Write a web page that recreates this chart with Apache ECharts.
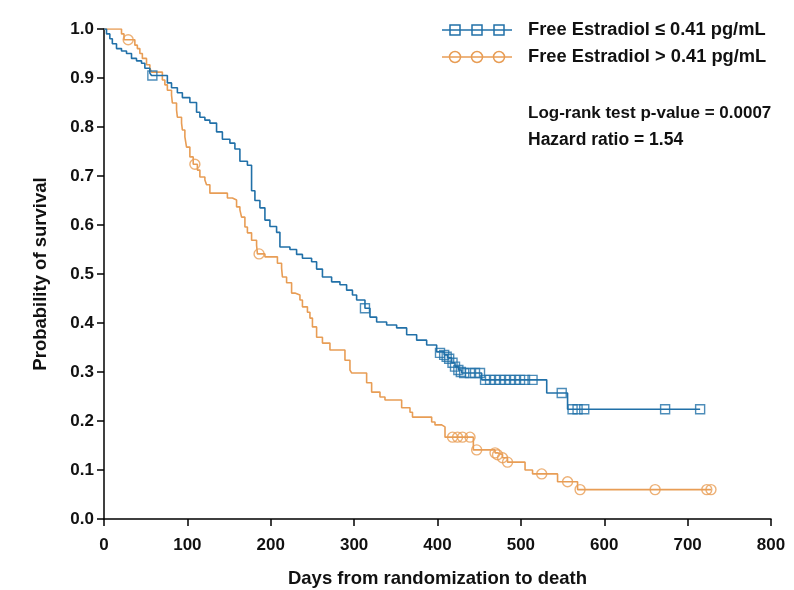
<!DOCTYPE html>
<html>
<head>
<meta charset="utf-8">
<script src="https://cdn.jsdelivr.net/npm/echarts@6.0.0/dist/echarts.min.js"></script>
<style>
    html, body { margin: 0; padding: 0; background: #fff; }
    #main { width: 794px; height: 590px; }
</style>
</head>
<body>
<div id="main"></div>
<script>
// Kaplan-Meier steps: [day, survival after the event]
const lowSteps = [
    [0, 1.0], [3, 0.99], [7, 0.98], [10, 0.97], [15, 0.96], [21, 0.955], [27, 0.95], [33, 0.94],
    [39, 0.935], [45, 0.93], [49, 0.92], [55, 0.91], [57, 0.905], [76, 0.89], [81, 0.88], [88, 0.87],
    [94, 0.86], [103, 0.85], [111, 0.83], [115, 0.82], [121, 0.814], [127, 0.808], [135, 0.79],
    [142, 0.775], [151, 0.767], [157, 0.755], [163, 0.73], [172, 0.722], [177, 0.67], [181, 0.65],
    [187, 0.635], [193, 0.61], [199, 0.597], [207, 0.585], [211, 0.555], [223, 0.55], [231, 0.54],
    [238, 0.532], [249, 0.525], [255, 0.51], [262, 0.494], [273, 0.484], [283, 0.478], [291, 0.467],
    [298, 0.457], [303, 0.447], [313, 0.43], [319, 0.412], [327, 0.402], [339, 0.396], [351, 0.39],
    [363, 0.376], [375, 0.365], [387, 0.355], [399, 0.341], [408, 0.335], [412, 0.329], [417, 0.319],
    [421, 0.311], [425, 0.304], [429, 0.298], [453, 0.284], [531, 0.257], [556, 0.224], [715, 0.224],
];
const lowCensored = [
    [58, 0.905], [313, 0.43], [403, 0.339], [408, 0.335], [411, 0.331], [414, 0.327], [418, 0.319],
    [421, 0.311], [425, 0.304], [428, 0.3], [432, 0.298], [439, 0.298], [445, 0.298], [451, 0.298],
    [457, 0.284], [463, 0.284], [469, 0.284], [475, 0.284], [481, 0.284], [487, 0.284], [493, 0.284],
    [499, 0.284], [505, 0.284], [514, 0.284], [549, 0.257], [562, 0.224], [568, 0.224], [576, 0.224],
    [673, 0.224], [715, 0.224],
];
const highSteps = [
    [0, 1.0], [21, 0.99], [24, 0.978], [37, 0.967], [40, 0.96], [43, 0.95], [46, 0.94], [51, 0.927],
    [55, 0.92], [57, 0.912], [70, 0.896], [73, 0.886], [76, 0.875], [81, 0.865], [82, 0.849],
    [87, 0.835], [88, 0.82], [93, 0.808], [94, 0.794], [97, 0.78], [99, 0.759], [103, 0.739],
    [107, 0.724], [112, 0.712], [115, 0.698], [121, 0.692], [123, 0.682], [127, 0.665], [148, 0.655],
    [154, 0.651], [159, 0.637], [163, 0.631], [165, 0.616], [169, 0.596], [172, 0.584], [177, 0.569],
    [183, 0.559], [184, 0.541], [193, 0.535], [208, 0.522], [213, 0.512], [214, 0.494], [219, 0.482],
    [225, 0.461], [229, 0.457], [235, 0.447], [238, 0.433], [244, 0.422], [247, 0.41], [250, 0.392],
    [255, 0.371], [262, 0.359], [271, 0.345], [289, 0.324], [295, 0.304], [297, 0.298], [315, 0.278],
    [321, 0.259], [331, 0.249], [337, 0.243], [357, 0.227], [367, 0.218], [370, 0.208], [393, 0.198],
    [397, 0.192], [405, 0.188], [409, 0.167], [443, 0.141], [469, 0.135], [472, 0.131], [478, 0.125],
    [484, 0.116], [505, 0.1], [514, 0.092], [544, 0.076], [568, 0.06], [728, 0.06],
];
const highCensored = [
    [29, 0.978], [109, 0.724], [186, 0.541], [418, 0.167], [424, 0.167], [430, 0.167], [439, 0.167],
    [447, 0.141], [469, 0.135], [472, 0.131], [478, 0.125], [484, 0.116], [525, 0.092], [556, 0.076],
    [571, 0.06], [661, 0.06], [723, 0.06], [728, 0.06],
];
const xTicks = [0, 100, 200, 300, 400, 500, 600, 700, 800];
const yTicks = [0, 0.1, 0.2, 0.3, 0.4, 0.5, 0.6, 0.7, 0.8, 0.9, 1.0];
const seriesNames = ['Free Estradiol ≤ 0.41 pg/mL', 'Free Estradiol > 0.41 pg/mL'];
const statLines = ['Log-rank test p-value = 0.0007', 'Hazard ratio = 1.54'];

const colors = ['#2170a8', '#e89d55'];
const font = '"Liberation Sans", Arial, sans-serif';

const myChart = echarts.init(document.getElementById('main'));

const legendItem = (i, y, shape) => {
    const marks = [455, 477, 499].map(cx => shape === 'rect'
        ? { type: 'rect', shape: { x: cx - 5, y: y - 5, width: 10, height: 10 },
            style: { fill: '#fff', stroke: colors[i], lineWidth: 1.5 } }
        : { type: 'circle', shape: { cx: cx, cy: y, r: 5.5 },
            style: { fill: '#fff', stroke: colors[i], lineWidth: 1.5 } });
    return [
        ...marks.map(m => ({ ...m, z: 10 })),
        { type: 'line', shape: { x1: 442, y1: y, x2: 512, y2: y }, z: 11,
          style: { stroke: colors[i], lineWidth: 1.5 } },
        { type: 'text', x: 528, y: y,
          style: { text: seriesNames[i], font: 'bold 18.3px ' + font, fill: '#111', verticalAlign: 'middle' } },
    ];
};

const option = {
    animation: false,
    backgroundColor: '#fff',
    grid: { left: 104, right: 23, top: 29, bottom: 71, outerBoundsMode: 'none', containLabel: false },
    xAxis: {
        type: 'value',
        min: xTicks[0],
        max: xTicks[xTicks.length - 1],
        interval: 100,
        name: 'Days from randomization to death',
        nameLocation: 'middle',
        nameGap: 50,
        nameTextStyle: { fontFamily: font, fontWeight: 'bold', fontSize: 18.5, color: '#111' },
        axisLine: { lineStyle: { color: '#000', width: 1.5 } },
        axisTick: { length: 7, lineStyle: { color: '#000', width: 1.5 } },
        axisLabel: { margin: 18, fontFamily: font, fontWeight: 'bold', fontSize: 17, color: '#111' },
        splitLine: { show: false },
    },
    yAxis: {
        type: 'value',
        min: yTicks[0],
        max: yTicks[yTicks.length - 1],
        interval: 0.1,
        name: 'Probability of survival',
        nameLocation: 'middle',
        nameGap: 54,
        nameTextStyle: { fontFamily: font, fontWeight: 'bold', fontSize: 18.5, color: '#111' },
        axisLine: { show: true, lineStyle: { color: '#000', width: 1.5 } },
        axisTick: { show: true, length: 7, lineStyle: { color: '#000', width: 1.5 } },
        axisLabel: { margin: 10, fontFamily: font, fontWeight: 'bold', fontSize: 17, color: '#111',
            formatter: v => v.toFixed(1) },
        splitLine: { show: false },
    },
    graphic: [
        ...legendItem(0, 30, 'rect'),
        ...legendItem(1, 57, 'circle'),
        { type: 'text', x: 528, y: 113,
          style: { text: statLines[0], font: 'bold 17px ' + font, fill: '#111', verticalAlign: 'middle' } },
        { type: 'text', x: 528, y: 140,
          style: { text: statLines[1], font: 'bold 17.5px ' + font, fill: '#111', verticalAlign: 'middle' } },
    ],
    series: [
        {
            name: seriesNames[0], type: 'line', step: 'end', data: lowSteps,
            showSymbol: false, lineStyle: { color: colors[0], width: 1.6 }, z: 3,
        },
        {
            name: seriesNames[1], type: 'line', step: 'end', data: highSteps,
            showSymbol: false, lineStyle: { color: colors[1], width: 1.6 }, z: 2,
        },
        {
            type: 'scatter', data: lowCensored, symbol: 'rect', symbolSize: 9, z: 4,
            itemStyle: { color: 'rgba(255,255,255,0)', borderColor: colors[0], borderWidth: 1.4 },
        },
        {
            type: 'scatter', data: highCensored, symbol: 'circle', symbolSize: 10, z: 4,
            itemStyle: { color: 'rgba(255,255,255,0)', borderColor: colors[1], borderWidth: 1.4 },
        },
    ],
};
myChart.setOption(option);
</script>
</body>
</html>
